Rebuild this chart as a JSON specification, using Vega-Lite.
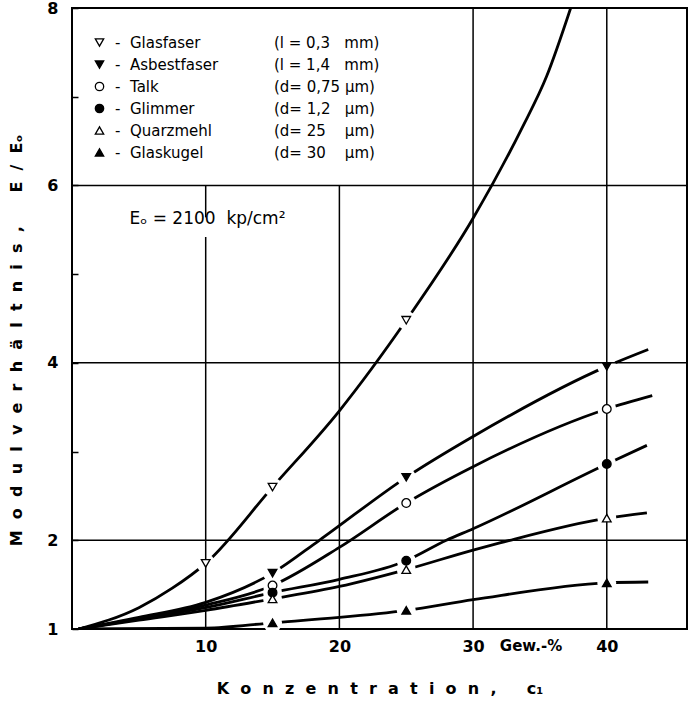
{
  "$schema": "https://vega.github.io/schema/vega-lite/v6.json",
  "width": 615,
  "height": 621,
  "autosize": {"type": "none"},
  "padding": {"left": 72, "top": 8, "right": 1, "bottom": 77},
  "background": "white",
  "config": {
    "view": {"stroke": "black", "strokeWidth": 2},
    "font": "DejaVu Sans",
    "axis": {
      "grid": false,
      "domain": false,
      "labelColor": "black",
      "titleColor": "black",
      "labelFont": "DejaVu Sans",
      "labelFontWeight": "bold",
      "labelFontSize": 16,
      "titleFont": "DejaVu Sans",
      "titleFontWeight": "bold",
      "titleFontSize": 16
    },
    "legend": {
      "labelFont": "DejaVu Sans",
      "labelColor": "black",
      "labelFontSize": 15,
      "labelLimit": 400
    }
  },
  "datasets": {
    "curves": [
      {"material": "Glasfaser", "c": 0.5, "E": 1.0, "m": 0},
      {"material": "Glasfaser", "c": 5, "E": 1.24, "m": 0},
      {"material": "Glasfaser", "c": 7.5, "E": 1.46, "m": 0},
      {"material": "Glasfaser", "c": 10, "E": 1.74, "m": 1},
      {"material": "Glasfaser", "c": 15, "E": 2.60, "m": 1},
      {"material": "Glasfaser", "c": 20, "E": 3.46, "m": 0},
      {"material": "Glasfaser", "c": 25, "E": 4.48, "m": 1},
      {"material": "Glasfaser", "c": 30, "E": 5.63, "m": 0},
      {"material": "Glasfaser", "c": 33.6, "E": 6.63, "m": 0},
      {"material": "Glasfaser", "c": 35.5, "E": 7.23, "m": 0},
      {"material": "Glasfaser", "c": 37.3, "E": 8.0, "m": 0},
      {"material": "Asbestfaser", "c": 0.5, "E": 1.0, "m": 0},
      {"material": "Asbestfaser", "c": 5, "E": 1.13, "m": 0},
      {"material": "Asbestfaser", "c": 10, "E": 1.30, "m": 0},
      {"material": "Asbestfaser", "c": 15, "E": 1.63, "m": 1},
      {"material": "Asbestfaser", "c": 18.5, "E": 2.0, "m": 0},
      {"material": "Asbestfaser", "c": 25, "E": 2.71, "m": 1},
      {"material": "Asbestfaser", "c": 30, "E": 3.17, "m": 0},
      {"material": "Asbestfaser", "c": 40, "E": 3.96, "m": 1},
      {"material": "Asbestfaser", "c": 43.1, "E": 4.15, "m": 0},
      {"material": "Talk", "c": 0.5, "E": 1.0, "m": 0},
      {"material": "Talk", "c": 5, "E": 1.12, "m": 0},
      {"material": "Talk", "c": 10, "E": 1.27, "m": 0},
      {"material": "Talk", "c": 15, "E": 1.49, "m": 1},
      {"material": "Talk", "c": 20, "E": 1.92, "m": 0},
      {"material": "Talk", "c": 25, "E": 2.42, "m": 1},
      {"material": "Talk", "c": 30, "E": 2.83, "m": 0},
      {"material": "Talk", "c": 40, "E": 3.48, "m": 1},
      {"material": "Talk", "c": 43.4, "E": 3.63, "m": 0},
      {"material": "Glimmer", "c": 0.5, "E": 1.0, "m": 0},
      {"material": "Glimmer", "c": 5, "E": 1.11, "m": 0},
      {"material": "Glimmer", "c": 10, "E": 1.24, "m": 0},
      {"material": "Glimmer", "c": 15, "E": 1.41, "m": 1},
      {"material": "Glimmer", "c": 20, "E": 1.56, "m": 0},
      {"material": "Glimmer", "c": 25, "E": 1.77, "m": 1},
      {"material": "Glimmer", "c": 28, "E": 2.0, "m": 0},
      {"material": "Glimmer", "c": 30, "E": 2.13, "m": 0},
      {"material": "Glimmer", "c": 40, "E": 2.86, "m": 1},
      {"material": "Glimmer", "c": 43, "E": 3.07, "m": 0},
      {"material": "Quarzmehl", "c": 0.5, "E": 1.0, "m": 0},
      {"material": "Quarzmehl", "c": 5, "E": 1.10, "m": 0},
      {"material": "Quarzmehl", "c": 10, "E": 1.21, "m": 0},
      {"material": "Quarzmehl", "c": 15, "E": 1.34, "m": 1},
      {"material": "Quarzmehl", "c": 20, "E": 1.48, "m": 0},
      {"material": "Quarzmehl", "c": 25, "E": 1.67, "m": 1},
      {"material": "Quarzmehl", "c": 30, "E": 1.89, "m": 0},
      {"material": "Quarzmehl", "c": 32, "E": 1.97, "m": 0},
      {"material": "Quarzmehl", "c": 40, "E": 2.25, "m": 1},
      {"material": "Quarzmehl", "c": 43, "E": 2.31, "m": 0},
      {"material": "Glaskugel", "c": 0.5, "E": 1.0, "m": 0},
      {"material": "Glaskugel", "c": 10, "E": 1.01, "m": 0},
      {"material": "Glaskugel", "c": 15, "E": 1.07, "m": 1},
      {"material": "Glaskugel", "c": 20, "E": 1.13, "m": 0},
      {"material": "Glaskugel", "c": 25, "E": 1.21, "m": 1},
      {"material": "Glaskugel", "c": 30, "E": 1.33, "m": 0},
      {"material": "Glaskugel", "c": 40, "E": 1.52, "m": 1},
      {"material": "Glaskugel", "c": 43.1, "E": 1.53, "m": 0}
    ],
    "materials": [
      {"material": "Glasfaser", "desc": "(l\u00a0=\u00a00,3\u00a0\u00a0\u00a0mm)"},
      {"material": "Asbestfaser", "desc": "(l\u00a0=\u00a01,4\u00a0\u00a0\u00a0mm)"},
      {"material": "Talk", "desc": "(d=\u00a00,75\u00a0µm)"},
      {"material": "Glimmer", "desc": "(d=\u00a01,2\u00a0\u00a0\u00a0µm)"},
      {"material": "Quarzmehl", "desc": "(d=\u00a025\u00a0\u00a0\u00a0\u00a0µm)"},
      {"material": "Glaskugel", "desc": "(d=\u00a030\u00a0\u00a0\u00a0\u00a0µm)"}
    ]
  },
  "data": {"name": "curves"},
  "layer": [
    {
      "mark": {"type": "line", "interpolate": "monotone", "stroke": "black", "strokeWidth": 2.8, "clip": true},
      "encoding": {
        "x": {
          "field": "c", "type": "quantitative",
          "scale": {"domain": [0, 46], "nice": false, "zero": false},
          "axis": {
            "values": [10, 20, 30, 40],
            "format": "d",
            "ticks": false,
            "labelPadding": 9,
            "title": "K\u2002\u2009o\u2002\u2009n\u2002\u2009z\u2002\u2009e\u2002\u2009n\u2002\u2009t\u2002\u2009r\u2002\u2009a\u2002\u2009t\u2002\u2009i\u2002\u2009o\u2002\u2009n\u2002\u2009,\u2002\u2009\u2002\u2009\u2002c\u2081",
            "titlePadding": 26
          }
        },
        "y": {
          "field": "E", "type": "quantitative",
          "scale": {"domain": [1, 8], "nice": false, "zero": false},
          "axis": {
            "values": [1, 2, 3, 4, 5, 6, 7, 8],
            "format": "d",
            "tickSize": -6,
            "tickColor": "black",
            "tickWidth": 1.5,
            "labelPadding": 20,
            "labelExpr": "datum.value == 3 || datum.value == 5 || datum.value == 7 ? '' : datum.label",
            "title": "M\u2002\u2009o\u2002\u2009d\u2002\u2009u\u2002\u2009l\u2002\u2009v\u2002\u2009e\u2002\u2009r\u2002\u2009h\u2002\u2009ä\u2002\u2009l\u2002\u2009t\u2002\u2009n\u2002\u2009i\u2002\u2009s\u2002\u2009,\u2002\u2009\u2002\u2009\u2002\u2009E\u2002\u2009/\u2002\u2009Eₒ",
            "titlePadding": 22,
            "titleY": 332
          }
        },
        "detail": {"field": "material", "type": "nominal"}
      }
    },
    {
      "transform": [{"filter": "datum.m == 1"}],
      "mark": {"type": "point", "shape": "circle", "filled": true, "fill": "white", "strokeWidth": 0, "size": 360, "opacity": 1},
      "encoding": {
        "x": {"field": "c", "type": "quantitative"},
        "y": {"field": "E", "type": "quantitative"}
      }
    },
    {"data": {"values": [{}]}, "mark": {"type": "rule", "stroke": "black", "strokeWidth": 1.5}, "encoding": {"y": {"datum": 2}}},
    {"data": {"values": [{}]}, "mark": {"type": "rule", "stroke": "black", "strokeWidth": 1.5}, "encoding": {"y": {"datum": 4}}},
    {"data": {"values": [{}]}, "mark": {"type": "rule", "stroke": "black", "strokeWidth": 1.5}, "encoding": {"y": {"datum": 6}}},
    {"data": {"values": [{}]}, "mark": {"type": "rule", "stroke": "black", "strokeWidth": 1.5}, "encoding": {"x": {"datum": 10}, "y": {"datum": 1}, "y2": {"datum": 5.42}}},
    {"data": {"values": [{}]}, "mark": {"type": "rule", "stroke": "black", "strokeWidth": 1.5}, "encoding": {"x": {"datum": 10}, "y": {"datum": 5.64}, "y2": {"datum": 6}}},
    {"data": {"values": [{}]}, "mark": {"type": "rule", "stroke": "black", "strokeWidth": 1.5}, "encoding": {"x": {"datum": 20}, "y": {"datum": 1}, "y2": {"datum": 6}}},
    {"data": {"values": [{}]}, "mark": {"type": "rule", "stroke": "black", "strokeWidth": 1.5}, "encoding": {"x": {"datum": 30}}},
    {"data": {"values": [{}]}, "mark": {"type": "rule", "stroke": "black", "strokeWidth": 1.5}, "encoding": {"x": {"datum": 40}}},
    {
      "transform": [
        {"filter": "datum.m == 1"},
        {"lookup": "material", "from": {"data": {"name": "materials"}, "key": "material", "fields": ["desc"]}}
      ],
      "mark": {"type": "point", "filled": true, "stroke": "black", "strokeWidth": 1.3, "size": 75, "opacity": 1},
      "encoding": {
        "x": {"field": "c", "type": "quantitative"},
        "y": {"field": "E", "type": "quantitative"},
        "shape": {
          "field": "material", "type": "nominal",
          "scale": {
            "domain": ["Glasfaser", "Asbestfaser", "Talk", "Glimmer", "Quarzmehl", "Glaskugel"],
            "range": ["triangle-down", "triangle-down", "circle", "circle", "triangle-up", "triangle-up"]
          },
          "legend": {
            "orient": "none", "legendX": 20, "legendY": 27, "title": null, "padding": 0,
            "labelExpr": "'-\u00a0\u00a0' + datum.label",
            "symbolSize": 70, "symbolStrokeColor": "black", "symbolStrokeWidth": 1.3, "symbolOpacity": 1,
            "rowPadding": 6, "labelOffset": 8,
            "encode": {"symbols": {"update": {"stroke": {"value": "black"}, "strokeWidth": {"value": 1.3}, "opacity": {"value": 1}}}}
          }
        },
        "fill": {
          "field": "material", "type": "nominal",
          "scale": {
            "domain": ["Glasfaser", "Asbestfaser", "Talk", "Glimmer", "Quarzmehl", "Glaskugel"],
            "range": ["white", "black", "white", "black", "white", "black"]
          },
          "legend": {
            "orient": "none", "legendX": 20, "legendY": 27, "title": null, "padding": 0,
            "labelExpr": "'-\u00a0\u00a0' + datum.label",
            "symbolSize": 70, "symbolStrokeColor": "black", "symbolStrokeWidth": 1.3, "symbolOpacity": 1,
            "rowPadding": 6, "labelOffset": 8,
            "encode": {"symbols": {"update": {"stroke": {"value": "black"}, "strokeWidth": {"value": 1.3}, "opacity": {"value": 1}}}}
          }
        },
        "opacity": {
          "field": "desc", "type": "ordinal",
          "scale": {
            "domain": ["(l\u00a0=\u00a00,3\u00a0\u00a0\u00a0mm)", "(l\u00a0=\u00a01,4\u00a0\u00a0\u00a0mm)", "(d=\u00a00,75\u00a0µm)", "(d=\u00a01,2\u00a0\u00a0\u00a0µm)", "(d=\u00a025\u00a0\u00a0\u00a0\u00a0µm)", "(d=\u00a030\u00a0\u00a0\u00a0\u00a0µm)"],
            "range": [1, 1, 1, 1, 1, 1]
          },
          "legend": {
            "orient": "none", "legendX": 187, "legendY": 27, "title": null, "padding": 0,
            "symbolSize": 0, "symbolOpacity": 0, "labelOffset": 0, "rowPadding": 6
          }
        }
      }
    },
    {
      "data": {"values": [{}]},
      "mark": {"type": "text", "text": "Eₒ\u00a0=\u00a02100\u00a0\u00a0kp/cm²", "align": "left", "baseline": "middle", "fontSize": 17, "font": "DejaVu Sans", "color": "black"},
      "encoding": {"x": {"datum": 4.3}, "y": {"datum": 5.62}}
    },
    {
      "data": {"values": [{}]},
      "mark": {"type": "text", "text": "Gew.-%", "align": "left", "baseline": "middle", "dy": 17, "fontSize": 15, "fontWeight": "bold", "font": "DejaVu Sans", "color": "black"},
      "encoding": {"x": {"datum": 32}, "y": {"datum": 1}}
    }
  ]
}
